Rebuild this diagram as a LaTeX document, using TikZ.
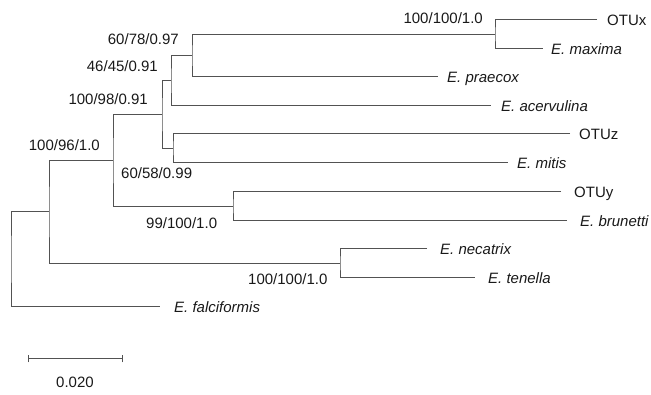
\documentclass[tikz,border=0pt]{standalone}
\usepackage{fontspec}
\setmainfont{Liberation Sans}
\begin{document}
\begin{tikzpicture}[x=1pt,y=-1pt,
  branch/.style={draw=black!68, line width=1pt},
  lbl/.style={inner sep=0pt, text height=10.7pt, text depth=0pt, font=\fontsize{15}{18}\selectfont, text=black!90},
  tip/.style={lbl, anchor=west, font=\fontsize{15}{18}\selectfont\itshape},
  otu/.style={lbl, anchor=west},
  supR/.style={lbl, anchor=east},
  supL/.style={lbl, anchor=west}]
\useasboundingbox (0,0) rectangle (651,395);
% tip ends
\coordinate (tOTUx) at (597,20);
\coordinate (tmax) at (543,49);
\coordinate (tpra) at (438,77);
\coordinate (tace) at (491,106);
\coordinate (tOTUz) at (570,134);
\coordinate (tmit) at (508,163);
\coordinate (tOTUy) at (561,192);
\coordinate (tbru) at (567,221);
\coordinate (tnec) at (427,249);
\coordinate (tten) at (475,278);
\coordinate (tfal) at (160,307);
% internal nodes
\coordinate (n6) at (495,34.5);
\coordinate (n5) at (192,55.75);
\coordinate (n4) at (171,80.9);
\coordinate (n7) at (173,148.5);
\coordinate (n3) at (162,114.7);
\coordinate (n8) at (233,206.5);
\coordinate (n2) at (113,160.6);
\coordinate (n9) at (340,263.5);
\coordinate (n1) at (49,212);
\coordinate (r) at (11,259.5);
% branches
\draw[branch] (tOTUx) -| (n6) |- (tmax);
\draw[branch] (n6) -| (n5) |- (tpra);
\draw[branch] (n5) -| (n4) |- (tace);
\draw[branch] (tOTUz) -| (n7) |- (tmit);
\draw[branch] (n4) -| (n3) |- (n7);
\draw[branch] (tOTUy) -| (n8) |- (tbru);
\draw[branch] (n3) -| (n2) |- (n8);
\draw[branch] (tnec) -| (n9) |- (tten);
\draw[branch] (n2) -| (n1) |- (n9);
\draw[branch] (n1) -| (r) |- (tfal);
% tip labels
\node[otu] (lOTUx) at (607,20) {OTUx};
\node[tip] (lmax) at (551,49) {E. maxima};
\node[tip] (lpra) at (447,77) {E. praecox};
\node[tip] (lace) at (501,106) {E. acervulina};
\node[otu] (lOTUz) at (579,134) {OTUz};
\node[tip] (lmit) at (517,163) {E. mitis};
\node[otu] (lOTUy) at (574,192) {OTUy};
\node[tip] (lbru) at (580,221) {E. brunetti};
\node[tip] (lnec) at (440,249) {E. necatrix};
\node[tip] (lten) at (488,278) {E. tenella};
\node[tip] (lfal) at (174,307) {E. falciformis};
% support values
\node[supR] (s6) at (483,18) {100/100/1.0};
\node[supR] (s5) at (179,39) {60/78/0.97};
\node[supR] (s4) at (158,66) {46/45/0.91};
\node[supR] (s3) at (148,99) {100/98/0.91};
\node[supR] (s2) at (100,145) {100/96/1.0};
\node[supL] (s7) at (121,173) {60/58/0.99};
\node[supL] (s8) at (146,223) {99/100/1.0};
\node[supL] (s9) at (248,279) {100/100/1.0};
% scale bar
\coordinate (sbL) at (28,359);
\coordinate (sbR) at (122,359);
\draw[branch] (sbL) -- (sbR);
\draw[branch] ([yshift=-3.5]sbL) -- ([yshift=3.5]sbL);
\draw[branch] ([yshift=-3.5]sbR) -- ([yshift=3.5]sbR);
\node[lbl, anchor=center] (sblbl) at (75,382) {0.020};
\end{tikzpicture}
\end{document}
